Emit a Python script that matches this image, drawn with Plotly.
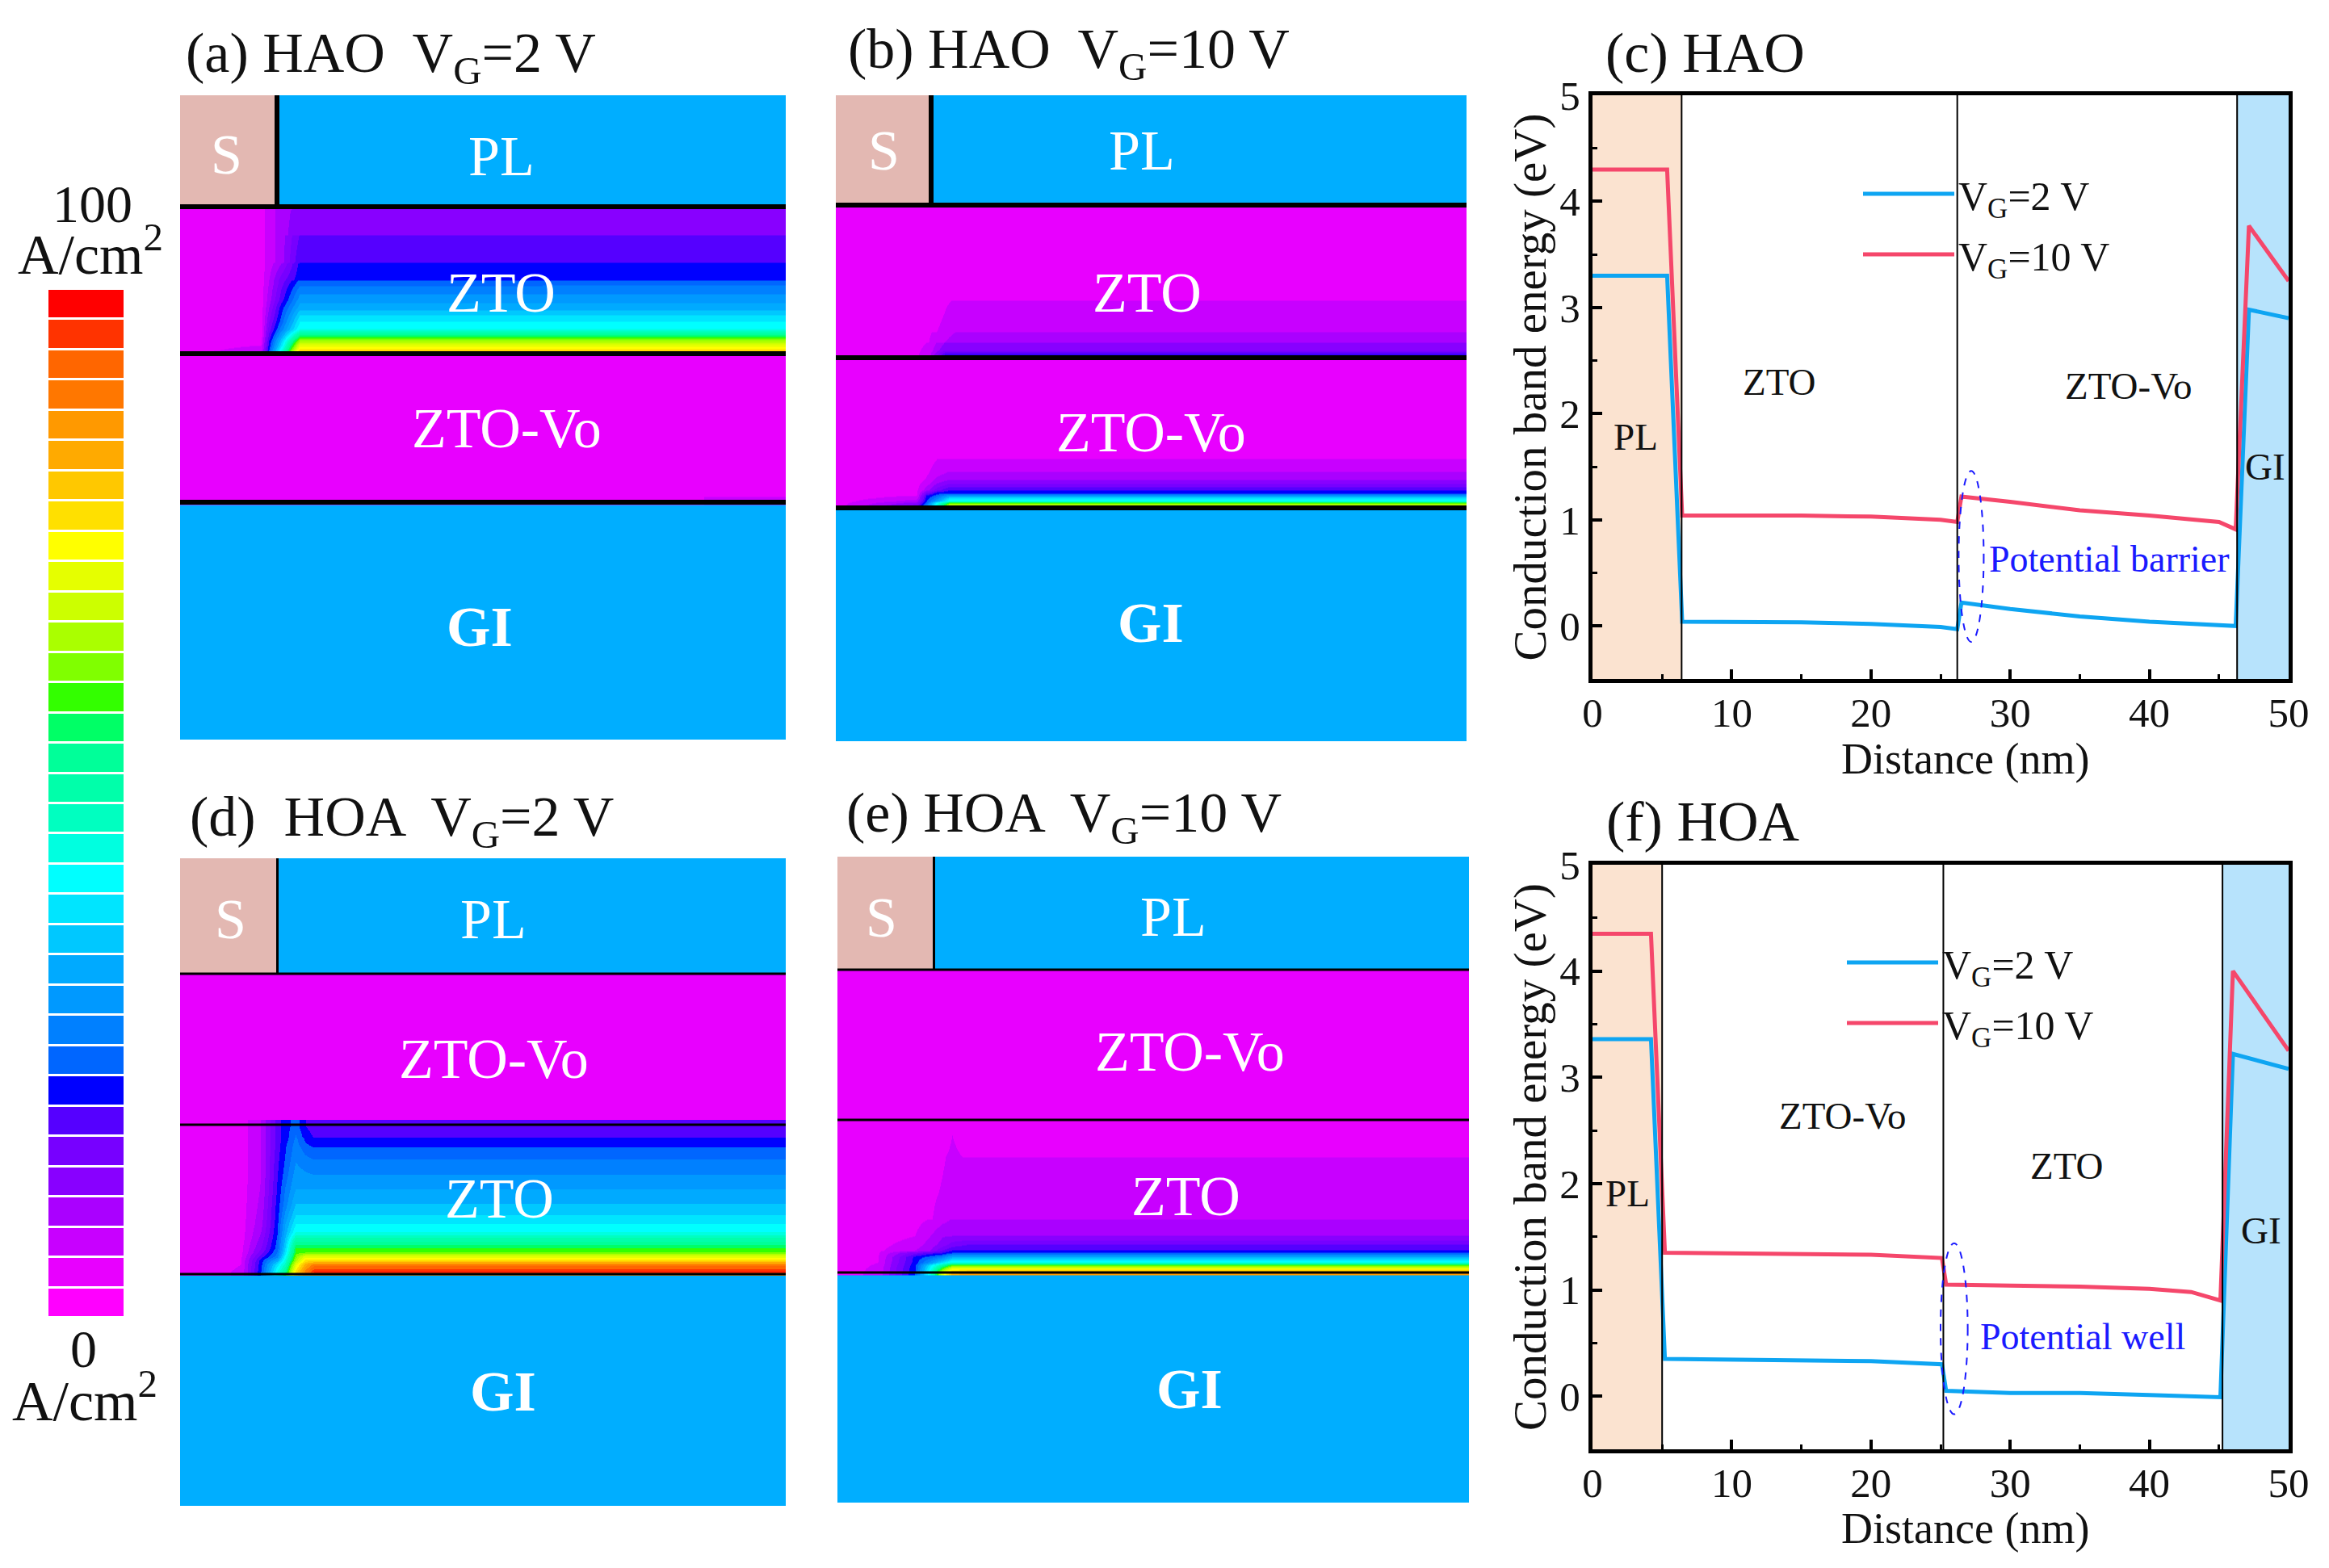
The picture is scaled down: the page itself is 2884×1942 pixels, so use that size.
import plotly.graph_objects as go

W, H = 2884, 1942
FONT = "Liberation Serif"
INK = "#111111"

# ---------- current-density colour levels, bottom (0 A/cm2) to top (100 A/cm2)
level_colors = ["#ff00ff", "#e800ff", "#c800ff", "#aa00ff", "#8800ff", "#7700ff", "#5500ff", "#0000ff",
                "#0066ff", "#0080ff", "#0099ff", "#00aaff", "#00c8ff", "#00e5ff", "#00ffff", "#00ffe0",
                "#00ffc0", "#00ffaa", "#00ff99", "#00ff66", "#33ff00", "#80ff00", "#aaff00", "#ccff00",
                "#e5ff00", "#ffff00", "#ffe000", "#ffc800", "#ffaa00", "#ff9900", "#ff7700", "#ff6600",
                "#ff3300", "#ff0000"]

# ---------- conduction-band profiles
c_x = [0, 5.36, 6.44, 15, 20, 25, 26.2, 26.5, 30, 35, 40, 45, 46.2, 47.15, 50]
c_2v = [3.3, 3.3, 0.04, 0.035, 0.02, -0.01, -0.03, 0.22, 0.16, 0.09, 0.04, 0.01, 0.0, 2.98, 2.9]
c_10v = [4.3, 4.3, 1.04, 1.04, 1.03, 1.0, 0.98, 1.22, 1.17, 1.09, 1.04, 0.98, 0.91, 3.77, 3.25]
c_bounds = [6.4, 26.2, 46.3]

f_x = [0, 4.2, 5.2, 15, 20, 25.1, 25.4, 30, 35, 40, 43, 45.1, 46.0, 50]
f_2v = [3.36, 3.36, 0.35, 0.34, 0.33, 0.30, 0.05, 0.03, 0.03, 0.01, 0.0, -0.01, 3.22, 3.08]
f_10v = [4.35, 4.35, 1.35, 1.34, 1.33, 1.30, 1.05, 1.04, 1.03, 1.01, 0.98, 0.90, 4.0, 3.25]
f_bounds = [5.0, 25.2, 45.25]

# ---------- current-density maps: level read at (lateral px, depth px inside the layer)
a_zto_x = [0, 100, 110, 125, 148, 750]
a_zto_d = [1, 4, 34, 35, 68, 70, 90, 91, 102, 114, 124, 134, 142, 151, 156, 161, 165, 171, 177, 182]
a_zto_z = [[1, 1, 2, 3, 3.8, 3.8], [1, 1, 2, 3, 4, 4], [1, 1, 2, 3, 4.4, 4.4], [1, 1, 2, 3, 5.6, 5.6],
           [1, 1, 2, 3, 6.4, 6.4], [1, 1, 2, 3.5, 6.8, 7], [1, 1, 2.5, 5, 7.2, 7.4], [1, 1, 2.5, 5, 7.8, 8],
           [1, 1, 2.8, 5.5, 9, 9], [1, 1, 3, 6, 10, 10], [1, 1, 3.5, 7, 11, 11], [1, 1, 4, 7.5, 12.5, 12.5],
           [1, 1, 4.5, 8, 13.5, 13.5], [1, 1, 5, 9, 14.5, 14.5], [1, 1, 5.5, 10, 17, 17], [1, 1, 6, 11, 19.5, 19.5],
           [1, 1.2, 6.5, 12, 21.5, 21.5], [1, 1.5, 7, 13, 24, 24], [1, 2, 7.5, 14.5, 26, 26], [1, 3, 8, 16, 29, 29]]
a_vo_x = [0, 140, 750]
a_vo_d = [0, 1, 175, 177, 184]
a_vo_z = [[1, 1, 1], [1, 1, 1], [1, 1, 1.4], [1, 1, 1.6], [1, 1, 1.6]]

b_zto_x = [0, 100, 115, 135, 150, 781]
b_zto_d = [0, 1, 117, 118, 156, 157, 169, 170, 179, 184, 189]
b_zto_z = [[1, 1, 1, 1, 1, 1], [1, 1, 1, 1, 1, 1], [1, 1, 1, 1, 1.4, 1.4], [1, 1, 1, 1.4, 1.6, 1.6], [1, 1, 1.3, 1.7, 2.4, 2.4],
           [1, 1, 1.4, 2, 2.6, 2.6], [1, 1, 1.5, 2.5, 3.4, 3.4], [1, 1.2, 1.6, 3.6, 3.6, 3.6],
           [1, 1.3, 1.9, 4.4, 4.4, 4.4], [1, 1.4, 2, 6.4, 6.4, 6.4], [1, 1.4, 2.2, 7.4, 7.4, 7.4]]
b_vo_x = [0, 100, 112, 125, 140, 781]
b_vo_d = [0, 1, 124, 125, 140, 141, 150, 155, 163, 167, 170, 173, 177, 179, 182, 186]
b_vo_z = [[1, 1, 1, 1, 1, 1], [1, 1, 1, 1, 1, 1], [1, 1, 1, 1, 1.4, 1.4], [1, 1, 1, 1.5, 1.6, 1.6], [1, 1, 1.3, 2, 2.4, 2.4],
          [1, 1, 1.3, 2, 2.6, 2.6], [1, 1, 1.6, 2.8, 3.4, 3.4], [1, 1.2, 2, 3.5, 4.4, 4.4], [1, 1.3, 3, 5, 6.4, 6.4],
          [1, 1.4, 5, 7, 7.4, 7.4], [1, 1.5, 6.5, 8, 10, 10], [1, 2, 7, 9, 12.5, 12.5], [1, 3, 7.4, 10.5, 14.5, 14.5],
          [1, 4, 8, 14, 19.5, 19.5], [1, 5, 9, 15, 22.5, 22.5], [1, 6, 9, 15, 23, 23]]

d_zto_x = [0, 75, 100, 120, 130, 143, 155, 166, 750]
d_zto_d = [1, 15, 16, 27, 28, 43, 62, 80, 98, 112, 123, 133, 140, 153, 158, 163, 168, 173, 182, 185]
d_zto_z = [[1, 1, 2.5, 6, 7, 8, 6.5, 6, 6], [1, 1, 2.5, 6, 7, 8.6, 7, 6.4, 6.4], [1, 1, 2.5, 6, 7, 8.7, 7.2, 6.6, 6.6],
           [1, 1, 2.5, 6, 7.4, 9, 7.8, 7.4, 7.4], [1, 1, 2.5, 6, 7.4, 9, 8, 7.6, 7.6],
           [1, 1, 2.5, 6.2, 7.6, 9.4, 8.8, 8.5, 8.5], [1, 1, 2.5, 6.4, 8, 10, 9.7, 9.5, 9.5],
           [1, 1, 2.6, 6.6, 8.6, 10.5, 10.5, 10.5, 10.5], [1, 1, 2.8, 6.9, 9, 11.5, 11.5, 11.5, 11.5],
           [1, 1, 3, 7, 9.8, 12.5, 12.5, 12.5, 12.5], [1, 1, 3.2, 7.2, 10.5, 13.5, 13.5, 13.5, 13.5],
           [1, 1, 3.5, 7.4, 11, 14.5, 14.5, 14.5, 14.5], [1, 1, 3.8, 7.6, 11.5, 16.5, 16.5, 16.5, 16.5],
           [1, 1.2, 4.5, 8, 12.5, 19.5, 19.5, 19.5, 19.5], [1, 1.2, 5, 8.5, 13, 20, 20.5, 20.5, 20.5],
           [1, 1.3, 6, 9, 14, 21, 24, 24, 24], [1, 1.4, 7, 11, 15, 22, 26, 26, 26], [1, 1.5, 7.2, 13, 16, 24, 28, 30, 30],
           [1, 1.6, 7.5, 14.5, 18, 26, 30, 32.5, 32.5], [1, 1.6, 7.5, 15, 20, 27, 29, 29, 29]]

e_zto_x = [0, 50, 96, 115, 130, 142, 160, 781]
e_zto_d = [0, 1, 19, 45, 46, 90, 122, 123, 143, 154, 161, 164, 169, 176, 179, 183, 189]
e_zto_z = [[1, 1, 1, 1, 1, 1, 1, 1], [1, 1, 1, 1, 1, 1, 1, 1], [1, 1, 1, 1, 1, 1.5, 1, 1], [1, 1, 1, 1.1, 1.4, 1.7, 1.4, 1.4],
           [1, 1, 1, 1.1, 1.4, 1.7, 1.6, 1.6], [1, 1, 1, 1.3, 1.6, 2, 2, 2], [1, 1, 1.1, 1.4, 2, 2.4, 2.4, 2.4],
           [1, 1, 1.2, 1.6, 2.2, 2.6, 2.6, 2.6], [1, 1, 1.5, 2.5, 3.4, 3.5, 3.5, 3.5], [1, 1.2, 2, 3, 4, 5, 5.5, 5.5],
           [1, 1.3, 2.5, 3.5, 5.5, 6.5, 6.5, 6.5], [1, 1.4, 5, 6, 6.5, 7.5, 7.5, 7.5], [1, 1.4, 6.8, 8, 9, 11, 11, 11],
           [1, 1.5, 7, 10, 13, 15, 15, 15], [1, 1.6, 7.2, 13, 17, 20, 20, 20], [1, 1.7, 7.4, 14, 20, 24, 24, 24],
           [1, 1.8, 7.5, 15, 24, 28, 29, 29]]

# ---------- panel geometry: figure rectangle and layer tops (px below the panel top)
panels = [
    dict(ax="", box=(223, 973, 118, 916), s=117, tops=(138, 320, 504), lw=6, order=("ZTO", "ZTO-Vo"),
         maps=[(138, a_zto_x, a_zto_d, a_zto_z), (320, a_vo_x, a_vo_d, a_vo_z)],
         labels=dict(S=(57, 73), PL=(398, 75), ZTO=(397, 244), ZTOVo=(404, 412), GI=(371, 658))),
    dict(ax="2", box=(1035, 1816, 118, 918), s=115, tops=(136, 325, 511), lw=6, order=("ZTO", "ZTO-Vo"),
         maps=[(136, b_zto_x, b_zto_d, b_zto_z), (325, b_vo_x, b_vo_d, b_vo_z)],
         labels=dict(S=(59, 68), PL=(379, 68), ZTO=(385, 244), ZTOVo=(390, 417), GI=(390, 653))),
    dict(ax="3", box=(223, 973, 1063, 1865), s=119, tops=(143, 330, 515), lw=3, order=("ZTO-Vo", "ZTO"),
         maps=[(330, d_zto_x, d_zto_d, d_zto_z)],
         labels=dict(S=(62, 75), PL=(388, 75), ZTOVo=(388, 248), ZTO=(395, 421), GI=(400, 660))),
    dict(ax="4", box=(1037, 1819, 1061, 1861), s=118, tops=(140, 326, 515), lw=3, order=("ZTO-Vo", "ZTO"),
         maps=[(326, e_zto_x, e_zto_d, e_zto_z)],
         labels=dict(S=(54, 75), PL=(416, 74), ZTOVo=(436, 241), ZTO=(431, 420), GI=(436, 659))),
]
panel_titles = [("(a) HAO  V<sub>G</sub>=2 V", 228, 71), ("(b) HAO  V<sub>G</sub>=10 V", 1048, 66),
                ("(c) HAO", 1986, 65), ("(d)  HOA  V<sub>G</sub>=2 V", 233, 1017),
                ("(e) HOA  V<sub>G</sub>=10 V", 1046, 1012), ("(f) HOA", 1987, 1018)]


def fx(v):
    return v / W


def fy(v):
    return 1 - v / H


n = len(level_colors)
scale = []
for i, col in enumerate(level_colors):
    scale += [[i / n, col], [(i + 1) / n, col]]

fig = go.Figure()
shapes, notes = [], []
layout_axes = {}

for p in panels:
    ax = p["ax"]
    l, r, t, b = p["box"]
    width, height = r - l, b - t
    xa, ya = "x" + ax, "y" + ax
    layout_axes["xaxis" + ax] = dict(domain=[fx(l), fx(r)], range=[0, width], visible=False, fixedrange=True, anchor=ya)
    layout_axes["yaxis" + ax] = dict(domain=[fy(b), fy(t)], range=[height, 0], visible=False, fixedrange=True, anchor=xa)
    t1, t2, t3 = p["tops"]
    blue, mag, s_col = "#00AEFF", "#E800FF", "#E3B8B2"
    for x0, x1, y0, y1, col in [(0, p["s"], 0, t1, s_col), (p["s"], width, 0, t1, blue),
                                (0, width, t1, t2, mag), (0, width, t2, t3, mag), (0, width, t3, height, blue)]:
        shapes.append(dict(type="rect", xref=xa, yref=ya, x0=x0, x1=x1, y0=y0, y1=y1, fillcolor=col,
                           line=dict(width=0), layer="below"))
    for top, mx, md, mz in p["maps"]:
        fig.add_trace(go.Heatmap(x=mx, y=[top + v for v in md], z=mz, xaxis=xa, yaxis=ya, zsmooth="best",
                                 colorscale=scale, zmin=-0.5, zmax=n - 0.5, showscale=False, hoverinfo="skip"))
    for yv in p["tops"]:
        shapes.append(dict(type="line", xref=xa, yref=ya, x0=0, x1=width, y0=yv, y1=yv,
                           line=dict(color="black", width=p["lw"]), layer="above"))
    shapes.append(dict(type="line", xref=xa, yref=ya, x0=p["s"] + p["lw"] / 2, x1=p["s"] + p["lw"] / 2, y0=0, y1=t1,
                       line=dict(color="black", width=p["lw"]), layer="above"))
    lab = p["labels"]
    for key, text, bold in [("S", "S", False), ("PL", "PL", False), ("ZTO", "ZTO", False),
                            ("ZTOVo", "ZTO-Vo", False), ("GI", "GI", True)]:
        notes.append(dict(xref=xa, yref=ya, x=lab[key][0], y=lab[key][1], text=f"<b>{text}</b>" if bold else text,
                          showarrow=False, font=dict(family=FONT, size=70, color="white")))

# colour legend
fig.add_trace(go.Heatmap(x=[0], y=list(range(n)), z=[[k] for k in range(n)], xaxis="x5", yaxis="y5",
                         colorscale=scale, zmin=-0.5, zmax=n - 0.5, showscale=False, ygap=3, hoverinfo="skip"))
layout_axes["xaxis5"] = dict(domain=[fx(60), fx(153)], visible=False, fixedrange=True, anchor="y5")
layout_axes["yaxis5"] = dict(domain=[fy(1632), fy(358)], range=[-0.5, n - 0.5], visible=False, fixedrange=True, anchor="x5")
for text, x, y, size in [("100", 114, 252, 66), ("A/cm<sup>2</sup>", 112, 310, 70),
                         ("0", 103, 1670, 66), ("A/cm<sup>2</sup>", 105, 1730, 70)]:
    notes.append(dict(xref="paper", yref="paper", x=fx(x), y=fy(y), text=text, showarrow=False, xanchor="center",
                      yanchor="middle", font=dict(family=FONT, size=size, color=INK)))

for text, x, y in panel_titles:
    notes.append(dict(xref="paper", yref="paper", x=fx(x), y=fy(y), text=text, showarrow=False, xanchor="left",
                      yanchor="middle", font=dict(family=FONT, size=70, color=INK)))

# band diagrams
BLUE, RED = "#0EA5F2", "#F5476B"
band_panels = [
    dict(ax="6", box=(1972, 2834, 118, 841), x=c_x, low=c_2v, high=c_10v, bounds=c_bounds, legend="legend",
         ell=(26.3, 28.1, -0.15, 1.46), tag="Potential barrier", tagpos=(37.1, 0.63),
         texts=[("ZTO", 13.4, 2.3), ("ZTO-Vo", 38.5, 2.26), ("PL", 3.1, 1.78), ("GI", 48.3, 1.5)], xtitle_y=940),
    dict(ax="7", box=(1972, 2834, 1071, 1795), x=f_x, low=f_2v, high=f_10v, bounds=f_bounds, legend="legend2",
         ell=(25.0, 26.95, -0.17, 1.44), tag="Potential well", tagpos=(35.2, 0.56),
         texts=[("ZTO-Vo", 18, 2.64), ("ZTO", 34.1, 2.17), ("PL", 2.5, 1.91), ("GI", 48, 1.56)], xtitle_y=1893),
]
for p in band_panels:
    ax = p["ax"]
    l, r, t, b = p["box"]
    xa, ya = "x" + ax, "y" + ax
    common = dict(showline=True, mirror=True, linecolor="black", linewidth=5, ticks="inside", ticklen=12, tickwidth=4,
                  tickcolor="black", showgrid=False, zeroline=False, fixedrange=True,
                  tickfont=dict(family=FONT, size=51, color=INK))
    layout_axes["xaxis" + ax] = dict(domain=[fx(l), fx(r)], range=[0, 50], tickmode="linear", tick0=0, dtick=10,
                                     minor=dict(dtick=5, ticks="inside", ticklen=6, tickwidth=3, tickcolor="black"),
                                     ticklabelstandoff=-7, anchor=ya, **common)
    layout_axes["yaxis" + ax] = dict(domain=[fy(b), fy(t)], range=[-0.5, 5], tickmode="linear", tick0=0, dtick=1,
                                     minor=dict(dtick=0.5, ticks="inside", ticklen=6, tickwidth=3, tickcolor="black"),
                                     anchor=xa, automargin=True,
                                     title=dict(text="Conduction band energy (eV)", standoff=0,
                                                font=dict(family=FONT, size=57, color=INK)), **common)
    for name, vals, col in [("V<sub>G</sub>=2 V", p["low"], BLUE), ("V<sub>G</sub>=10 V", p["high"], RED)]:
        fig.add_trace(go.Scatter(x=p["x"], y=vals, mode="lines", name=name, xaxis=xa, yaxis=ya, legend=p["legend"],
                                 legendgroup=p["legend"] + name, line=dict(color=col, width=5), hoverinfo="skip"))
    b0, _, b2 = p["bounds"]
    shapes.append(dict(type="rect", xref=xa, yref=ya, x0=0, x1=b0, y0=-0.5, y1=5, fillcolor="#FBE3D0",
                       line=dict(width=0), layer="below"))
    shapes.append(dict(type="rect", xref=xa, yref=ya, x0=b2, x1=50, y0=-0.5, y1=5, fillcolor="#B7E3FC",
                       line=dict(width=0), layer="below"))
    for bv in p["bounds"]:
        shapes.append(dict(type="line", xref=xa, yref=ya, x0=bv, x1=bv, y0=-0.5, y1=5,
                           line=dict(color="black", width=2), layer="above"))
    e = p["ell"]
    shapes.append(dict(type="circle", xref=xa, yref=ya, x0=e[0], x1=e[1], y0=e[2], y1=e[3],
                       line=dict(color="#1A1AFF", width=2, dash="dash"), layer="above"))
    for text, x, y in p["texts"]:
        notes.append(dict(xref=xa, yref=ya, x=x, y=y, text=text, showarrow=False,
                          font=dict(family=FONT, size=47, color=INK)))
    notes.append(dict(xref=xa, yref=ya, x=p["tagpos"][0], y=p["tagpos"][1], text=p["tag"], showarrow=False,
                      font=dict(family=FONT, size=46, color="#1A1AFF")))
    notes.append(dict(xref="paper", yref="paper", x=fx(2433), y=fy(p["xtitle_y"]), text="Distance (nm)", showarrow=False,
                      xanchor="center", yanchor="middle", font=dict(family=FONT, size=54, color=INK)))

legend_common = dict(bgcolor="rgba(0,0,0,0)", borderwidth=0, itemwidth=113, xanchor="left", yanchor="top",
                     tracegroupgap=7, font=dict(family=FONT, size=50, color=INK), itemclick=False, itemdoubleclick=False)

fig.update_layout(width=W, height=H, autosize=False, margin=dict(l=0, r=0, t=0, b=0, autoexpand=False),
                  paper_bgcolor="white",
                  plot_bgcolor="rgba(0,0,0,0)", shapes=shapes, annotations=notes, showlegend=True,
                  font=dict(family=FONT, color=INK),
                  legend=dict(x=fx(2302), y=fy(201), **legend_common),
                  legend2=dict(x=fx(2282), y=fy(1153), **legend_common), **layout_axes)

fig.write_html("out.html", config=dict(displayModeBar=False), post_script="document.body.style.margin='0';")
